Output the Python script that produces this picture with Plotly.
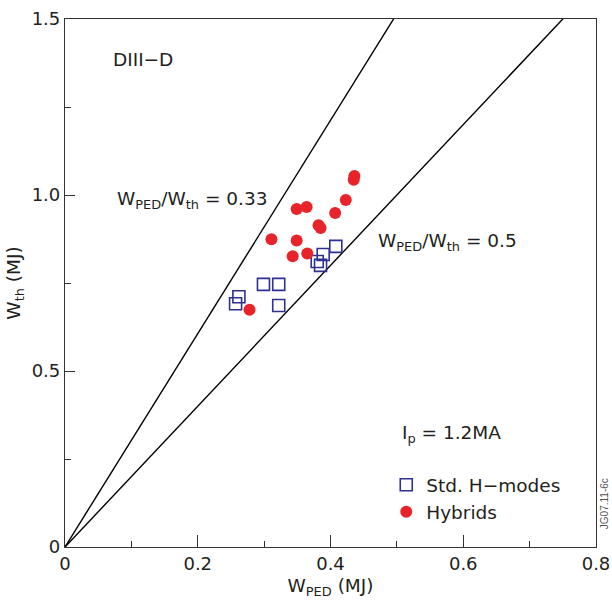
import plotly.graph_objects as go

# Data
std_x = [0.408, 0.389, 0.380, 0.385, 0.299, 0.322, 0.322, 0.262, 0.257]
std_y = [0.854, 0.831, 0.811, 0.800, 0.746, 0.746, 0.686, 0.711, 0.691]

hyb_x = [0.436, 0.435, 0.423, 0.407, 0.382, 0.385, 0.349, 0.364, 0.311, 0.349, 0.343, 0.365, 0.278]
hyb_y = [1.054, 1.043, 0.986, 0.949, 0.914, 0.906, 0.960, 0.966, 0.874, 0.871, 0.826, 0.834, 0.674]

ratios = [0.33, 0.5]
line_x = [0.0, 0.8]

FONT = "DejaVu Sans, sans-serif"
TXT = "#231f20"
BLUE = "#2e3192"
RED = "#e8232a"

fig = go.Figure()
for r in ratios:
    fig.add_trace(go.Scatter(x=line_x, y=[v / r for v in line_x], mode="lines",
                             line=dict(color="black", width=1.4), showlegend=False,
                             hoverinfo="skip"))

fig.add_trace(go.Scatter(x=std_x, y=std_y, mode="markers", name="Std. H\u2212modes",
                         marker=dict(symbol="square-open", size=12, color=BLUE,
                                     line=dict(width=1.6, color=BLUE))))
fig.add_trace(go.Scatter(x=hyb_x, y=hyb_y, mode="markers", name="Hybrids",
                         marker=dict(symbol="circle", size=12, color=RED)))

ann = [
    dict(x=0.069, y=1.386, text="DIII\u2212D", xanchor="left"),
    dict(x=0.075, y=0.985, text="W<sub>PED</sub>/W<sub>th</sub> = 0.33", xanchor="left"),
    dict(x=0.468, y=0.866, text="W<sub>PED</sub>/W<sub>th</sub> = 0.5", xanchor="left"),
    dict(x=0.504, y=0.322, text="I<sub>p</sub> = 1.2MA", xanchor="left"),
]
annotations = [dict(a, xref="x", yref="y", showarrow=False, yanchor="middle",
                    font=dict(family=FONT, size=18.5, color=TXT)) for a in ann]
annotations.append(dict(x=1.0, y=0.03, xref="paper", yref="paper", xanchor="left", yanchor="bottom",
                        xshift=1, text="JG07.11-6c", textangle=-90, showarrow=False,
                        font=dict(family="Liberation Sans, Arial, sans-serif", size=10, color="#555555")))

axis_common = dict(showline=True, linecolor="#333333", linewidth=1.2, mirror=True,
                   ticks="inside", tickcolor="#333333", showgrid=False, zeroline=False,
                   automargin=False,
                   tickfont=dict(family=FONT, size=18, color=TXT))

fig.update_layout(
    width=612, height=608,
    margin=dict(l=65, r=16, t=19, b=61),
    paper_bgcolor="white", plot_bgcolor="white",
    font=dict(family=FONT, size=18, color=TXT),
    xaxis=dict(axis_common, range=[0, 0.8], tickvals=[0, 0.2, 0.4, 0.6, 0.8],
               ticktext=["0", "0.2", "0.4", "0.6", "0.8"], ticklen=12,
               minor=dict(dtick=0.1, ticklen=6, ticks="inside", tickcolor="#333333"),
               title=dict(text="W<sub>PED</sub> (MJ)", font=dict(family=FONT, size=18.5), standoff=6)),
    yaxis=dict(axis_common, range=[0, 1.5], tickvals=[0, 0.5, 1.0, 1.5],
               ticktext=["0", "0.5", "1.0", "1.5"], ticklen=10,
               minor=dict(dtick=0.25, ticklen=6, ticks="inside", tickcolor="#333333"),
               title=dict(text="W<sub>th</sub> (MJ)", font=dict(family=FONT, size=18.5), standoff=6)),
    legend=dict(x=0.605, y=0.153, xanchor="left", yanchor="top", bgcolor="rgba(0,0,0,0)",
                font=dict(family=FONT, size=18.5, color=TXT), itemwidth=30,
                tracegroupgap=0),
    annotations=annotations,
)

fig.write_html("out.html")
